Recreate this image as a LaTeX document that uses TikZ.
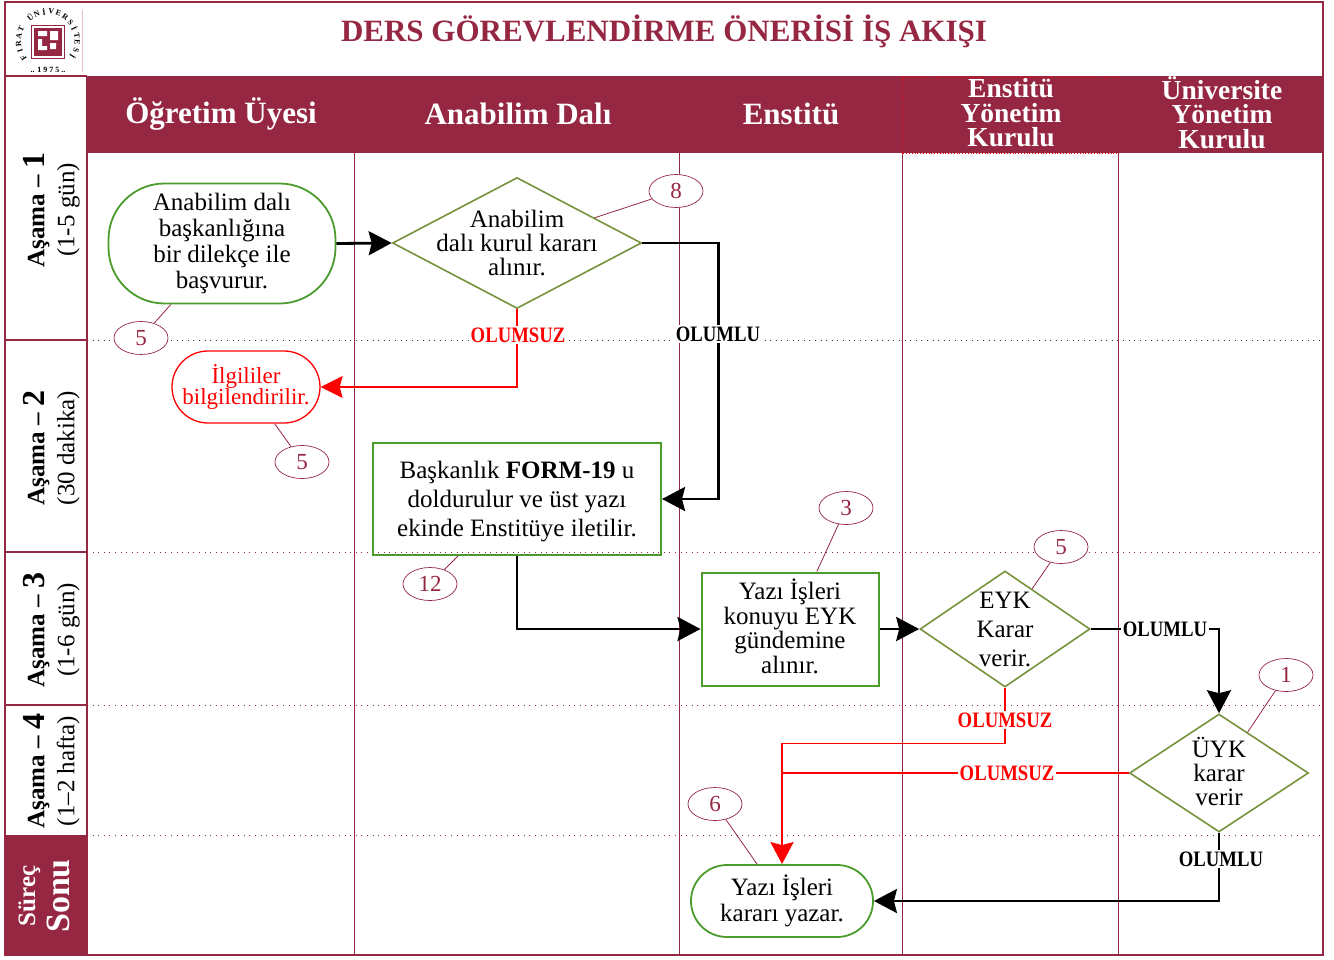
\documentclass[tikz,border=0pt]{standalone}
\usepackage{fontspec}
\setmainfont{Liberation Serif}
\newfontfamily\narrowfont[FakeStretch=0.85]{Liberation Serif}
\usetikzlibrary{arrows.meta,shapes.geometric}
\definecolor{crimson}{HTML}{962743}
\definecolor{leaf}{HTML}{4B9B2D}
\definecolor{olive}{HTML}{76923C}
\newcommand{\px}[1]{\fontsize{#1}{#1}\selectfont}
\tikzset{
  txt/.style={align=center, inner sep=0pt, font=\fontsize{25}{24}\selectfont},
  endbox/.style={draw=leaf, line width=1.8pt, rounded corners=36pt, align=center, inner sep=0pt, font=\fontsize{25}{26}\selectfont},
  stepbox/.style={draw=leaf, line width=2pt, align=center, inner sep=0pt},
  dec/.style={draw=olive, line width=1.6pt, diamond, inner sep=0pt},
  badge/.style={draw=crimson, fill=white, ellipse, line width=0.7pt, minimum width=54pt, minimum height=33pt, inner sep=0pt, text=crimson, font=\px{23}},
  tie/.style={draw=crimson, line width=0.8pt},
  yes/.style={draw, line width=2.8pt, -{Stealth[length=23pt,width=24pt,inset=3pt]}},
  no/.style={draw=red, line width=1.1pt},
  oklab/.style={fill=white, inner sep=1.5pt, font=\narrowfont\bfseries\px{22}},
  nolab/.style={fill=white, text=red, inner sep=1.5pt, font=\narrowfont\bfseries\px{22}},
  lane/.style={crimson, line width=1pt},
  row/.style={crimson, line width=1pt, dash pattern=on 1pt off 4.6pt},
  head/.style={text=white, align=center, inner sep=0pt, font=\bfseries\fontsize{31}{24.5}\selectfont},
  stage/.style={rotate=90, align=center, inner sep=0pt, font=\fontsize{25}{30}\selectfont}
}
\begin{document}
\begin{tikzpicture}[x=1pt, y=-1pt]
  \useasboundingbox (0,0) rectangle (1334,959);
  % bands
  \fill [crimson] (87,76) rectangle (1323,153);
  \fill [crimson] (5,835) rectangle (88,955);
  % lanes and rows
  \foreach \x in {354,679,902,1118} \draw [lane] (\x,153) -- (\x,955);
  \draw [row, black!80] (87,340) -- (1321,340);
  \foreach \y in {552,705,835} {
    \draw [row] (87,\y) -- (1321,\y);
  }
  \foreach \y in {76,340,552,705} \draw [crimson, line width=2pt] (5,\y) -- (87,\y);
  \draw [red, line width=0.8pt, dotted] (902,76) -- (902,153) -- (1118,153);
  \draw [red, line width=0.8pt, dotted] (902,77) -- (1118,77);
  \draw [crimson, line width=2pt] (87,76) -- (87,835);
  \draw [crimson, line width=2.4pt] (5,2) rectangle (1323,955);
  % logo
  \draw [crimson!30, line width=0.6pt] (82,10) -- (82,72);
  \draw [crimson, line width=1pt] (31,25) rectangle (64,58);
  \fill [crimson] (33.5,27.5) rectangle (61.5,55.5);
  \fill [white] (38,31) rectangle (47,36) (50,31) rectangle (58,40) (38,39) rectangle (42,50) (42,46) rectangle (47,50) (50,43) rectangle (56,49);
  \foreach \ch [count=\i] in {F,I,R,A,T,{},Ü,N,İ,V,E,R,S,İ,T,E,S,İ}
    \node [rotate=138.5-\i*14.5, inner sep=0pt, font=\bfseries\px{8}] (ring\i) at ({48+29.5*cos(228.5-\i*14.5)},{41-29.5*sin(228.5-\i*14.5)}) {\ch};
  \node [inner sep=0pt, font=\bfseries\px{8}] (year) at (48,70) {.. 1 9 7 5 ..};
  % titles
  \node [text=crimson, inner sep=0pt, font=\bfseries\px{31}] (title) at (664,31) {DERS GÖREVLENDİRME ÖNERİSİ İŞ AKIŞI};
  \node [head] (h1) at (221,114) {Öğretim Üyesi};
  \node [head] (h2) at (518,114) {Anabilim Dalı};
  \node [head] (h3) at (791,114) {Enstitü};
  \node [head, font=\bfseries\fontsize{27.5}{24.5}\selectfont] (h4) at (1011,113) {Enstitü\\Yönetim\\Kurulu};
  \node [head, font=\bfseries\fontsize{27.5}{24.5}\selectfont] (h5) at (1222,112.5) {Üniversite\\Yönetim\\Kurulu};
  % stages
  \node [stage] (s1) at (51.5,210) {\textbf{Aşama – {\px{32}1}}\\(1-5 gün)};
  \node [stage] (s2) at (51.5,448) {\textbf{Aşama – {\px{32}2}}\\(30 dakika)};
  \node [stage] (s3) at (51.5,630) {\textbf{Aşama – {\px{32}3}}\\(1-6 gün)};
  \node [stage] (s4) at (51.5,771) {\textbf{Aşama – {\px{32}4}}\\(1–2 hafta)};
  \node [stage, text=white, font=\bfseries\fontsize{25}{34}\selectfont] (s5) at (44,896) {Süreç\\{\px{34}Sonu}};
  % steps
  \node [endbox, rounded corners=56pt, minimum width=227pt, minimum height=120pt] (start) at (222,243.5) {Anabilim dalı\\başkanlığına\\bir dilekçe ile\\başvurur.};
  \node [dec, minimum width=249pt, minimum height=131pt, label={[txt]center:Anabilim\\dalı kurul kararı\\alınır.}] (d1) at (517,243) {};
  \node [endbox, draw=red, text=red, line width=1.3pt, minimum width=148pt, minimum height=72pt, font=\fontsize{23}{20}\selectfont] (info) at (246,387) {İlgililer\\bilgilendirilir.};
  \node [stepbox, minimum width=288pt, minimum height=112pt, text depth=0pt, font=\fontsize{25}{29}\selectfont] (form) at (517,499) {Başkanlık \textbf{FORM-19} u\\doldurulur ve üst yazı\\ekinde Enstitüye iletilir.};
  \node [stepbox, minimum width=177pt, minimum height=113pt, text depth=6pt, font=\fontsize{25}{24.5}\selectfont] (agenda) at (790,629) {Yazı İşleri\\konuyu EYK\\gündemine\\alınır.};
  \node [dec, minimum width=170pt, minimum height=116pt, label={[txt, font=\fontsize{25}{29}\selectfont]center:EYK\\Karar\\verir.}] (eyk) at (1005,629) {};
  \node [dec, minimum width=179pt, minimum height=118pt, label={[txt, yshift=1.5pt, font=\fontsize{25}{24}\selectfont]center:ÜYK\\karar\\verir}] (uyk) at (1219,773) {};
  \node [endbox, minimum width=182pt, minimum height=72pt] (end) at (782,901) {Yazı İşleri\\kararı yazar.};
  % connectors
  \coordinate (join) at (782,773);
  \draw [yes] (start.east) -- (d1.west);
  \draw [yes] (d1.east) -- ++(76,0) |- (form.east);
  \draw [yes] (form.south) |- (agenda.west);
  \draw [yes] (agenda.east) -- (eyk.west);
  \draw [yes] (eyk.east) -| (uyk.north);
  \draw [yes] (uyk.south) |- (end.east);
  \draw [no, -{Stealth[length=22pt,width=22pt,inset=3pt]}] (d1.south) |- (info.east);
  \draw [no] (eyk.south) -- ++(0,56) -| (join);
  \draw [no] (uyk.west) -- (join);
  \draw [red, line width=2.4pt, -{Stealth[length=22pt,width=23pt,inset=3pt]}] (join) -- (end.north);
  \node [nolab] (n1) at (518,335) {OLUMSUZ};
  \node [oklab] (y1) at (718,334) {OLUMLU};
  \node [oklab] (y2) at (1165,629) {OLUMLU};
  \node [nolab] (n2) at (1005,720) {OLUMSUZ};
  \node [nolab] (n3) at (1007,773) {OLUMSUZ};
  \node [oklab] (y3) at (1221,859) {OLUMLU};
  % durations
  \node [badge] (b8) at (676,191) {8};
  \node [badge] (b5a) at (141,338) {5};
  \node [badge] (b5b) at (302,462) {5};
  \node [badge] (b12) at (430,584) {12};
  \node [badge] (b3) at (846,508) {3};
  \node [badge] (b5c) at (1061,547) {5};
  \node [badge] (b1) at (1286,675) {1};
  \node [badge] (b6) at (715,804) {6};
  \draw [tie] (b8) -- (d1.18);
  \draw [tie] (b5a) -- (start.230);
  \draw [tie] (b5b) -- (info.308);
  \draw [tie] (b12) -- (form.224);
  \draw [tie] (b3) -- (agenda.65);
  \draw [tie] (b5c) -- (eyk.56);
  \draw [tie] (b1) -- (uyk.55);
  \draw [tie] (b6) -- (end.124);
\end{tikzpicture}
\end{document}
